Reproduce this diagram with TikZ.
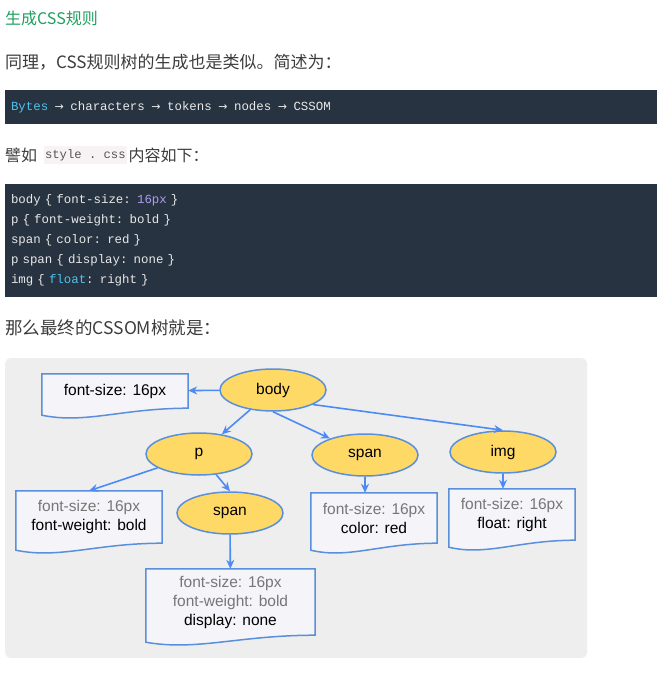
\documentclass[tikz,border=0pt]{standalone}
\usepackage{fontspec}
\setmainfont{Liberation Sans}
\setmonofont{Liberation Mono}
\newfontfamily\cjk{Noto Sans CJK SC}
\newfontfamily\arrowfont{DejaVu Sans}
\usetikzlibrary{shapes.geometric,arrows.meta,positioning,calc,backgrounds}

\definecolor{titlegreen}{HTML}{1F9F5F}
\definecolor{bodytext}{HTML}{3C3C3C}
\definecolor{codebg}{HTML}{283341}
\definecolor{codetext}{HTML}{E8E8E8}
\definecolor{codecyan}{HTML}{4FC1E9}
\definecolor{codepurple}{HTML}{AE9CF2}
\definecolor{inlinebg}{HTML}{F7F2F4}
\definecolor{inlinetext}{HTML}{555555}
\definecolor{panelbg}{HTML}{EEEEEE}
\definecolor{tagfill}{HTML}{FFD966}
\definecolor{nodeblue}{HTML}{5A8FDB}
\definecolor{boxfill}{HTML}{F4F4F9}
\definecolor{arrowblue}{HTML}{4C8BF5}
\definecolor{inheritgray}{HTML}{777777}

\begin{document}
\begin{tikzpicture}[
    x=1pt, y=-1pt,
    para/.style={anchor=west, inner sep=0pt, text=bodytext, font=\cjk\fontsize{16}{18}\selectfont},
    codeblock/.style={fill=codebg, text=codetext, text width=640pt, inner xsep=6pt, inner ysep=0pt, align=left, font=\ttfamily\fontsize{12.4}{20}\selectfont},
    inlinecode/.style={fill=inlinebg, text=inlinetext, inner xsep=1.5pt, inner ysep=0pt, minimum height=18pt, font=\ttfamily\fontsize{12.2}{14}\selectfont},
    tag/.style={ellipse, draw=nodeblue, line width=1.5pt, fill=tagfill, minimum width=106pt, minimum height=42pt, inner sep=0pt, font=\fontsize{15.5}{19}\selectfont},
    rules/.style={inner sep=0pt, align=center, font=\fontsize{15.5}{19}\selectfont},
    docline/.style={draw=nodeblue, line width=1.5pt, fill=boxfill},
    edge/.style={-{Stealth[length=9pt,width=8pt]}, line width=1.6pt, draw=arrowblue}
]
\useasboundingbox (0,0) rectangle (664,674);

% Text above the figure
\node[para, text=titlegreen] (title) at (5,18) {生成CSS规则};
\node[para, font=\cjk\fontsize{17}{19}\selectfont] (same) at (5,62) {同理，CSS规则树的生成也是类似。简述为：};
\node[codeblock, minimum height=34pt] (flow) at (331,107)
  {\textcolor{codecyan}{Bytes} \makebox[14pt]{\arrowfont\fontsize{11}{12}\selectfont →} characters \makebox[14pt]{\arrowfont\fontsize{11}{12}\selectfont →} tokens \makebox[14pt]{\arrowfont\fontsize{11}{12}\selectfont →} nodes \makebox[14pt]{\arrowfont\fontsize{11}{12}\selectfont →} CSSOM};
\node[para] (like) at (5,155) {譬如};
\node[inlinecode, right=6pt of like] (stylecss) {style . css};
\node[para, right=1pt of stylecss] (content) {内容如下：};
\node[codeblock, minimum height=113pt] (sheet) at (331,240.5)
  {body \{ font-size: \textcolor{codepurple}{16px} \}\\
   p \{ font-weight: bold \}\\
   span \{ color: red \}\\
   p span \{ display: none \}\\
   img \{ \textcolor{codecyan}{float}: right \}};
\node[para, font=\cjk\fontsize{17.5}{19}\selectfont] (final) at (5,328) {那么最终的CSSOM树就是：};

% Figure panel
\begin{scope}[on background layer]
  \fill[panelbg, rounded corners=6pt] (5,358) rectangle (587,658);
\end{scope}

% Element nodes
\node[tag] (body) at (273,390) {body};
\node[tag] (p) at (199,454) {p};
\node[tag] (spanr) at (365,455) {span};
\node[tag] (img) at (503,452) {img};
\node[tag] (pspan) at (230,513) {span};

% Computed styles
\node[rules, minimum width=146pt, minimum height=34pt] (fsbody) at (115,391) {font-size: 16px};
\node[rules, minimum width=146pt, minimum height=52pt] (fsp) at (89,517)
  {\textcolor{inheritgray}{font-size: 16px}\\font-weight: bold};
\node[rules, minimum width=126pt, minimum height=50pt] (fsspan) at (374,518)
  {\textcolor{inheritgray}{font-size: 16px}\\color: red};
\node[rules, minimum width=126pt, minimum height=51pt] (fsimg) at (512,514.5)
  {\textcolor{inheritgray}{font-size: 16px}\\float: right};
\node[rules, minimum width=169pt, minimum height=66pt] (fspspan) at (230.5,602)
  {\textcolor{inheritgray}{font-size: 16px}\\\textcolor{inheritgray}{font-weight: bold}\\display: none};

% wavy document outlines
\begin{scope}[on background layer]
  \foreach \b in {fsbody,fsp,fsspan,fsimg,fspspan}
    \draw[docline] (\b.north west) -- (\b.north east) -- (\b.south east)
      .. controls ($(\b.south west)!.55!(\b.south east)$) and ($(\b.south west)!.3!(\b.south east)+(0,16)$)
      .. ($(\b.south west)+(0,7)$) -- cycle;
\end{scope}

% Tree edges
\draw[edge] (body) -- (fsbody);
\draw[edge] (body) -- (p);
\draw[edge] (body.south) -- (spanr);
\draw[edge] (body.-20) -- (img.north);
\draw[edge] (p) -- (fsp.north);
\draw[edge] (p) -- (pspan.north);
\draw[edge] (pspan) -- (fspspan);
\draw[edge] (spanr) -- (spanr |- fsspan.north);
\draw[edge] (img) -- (img |- fsimg.north);

\end{tikzpicture}
\end{document}
